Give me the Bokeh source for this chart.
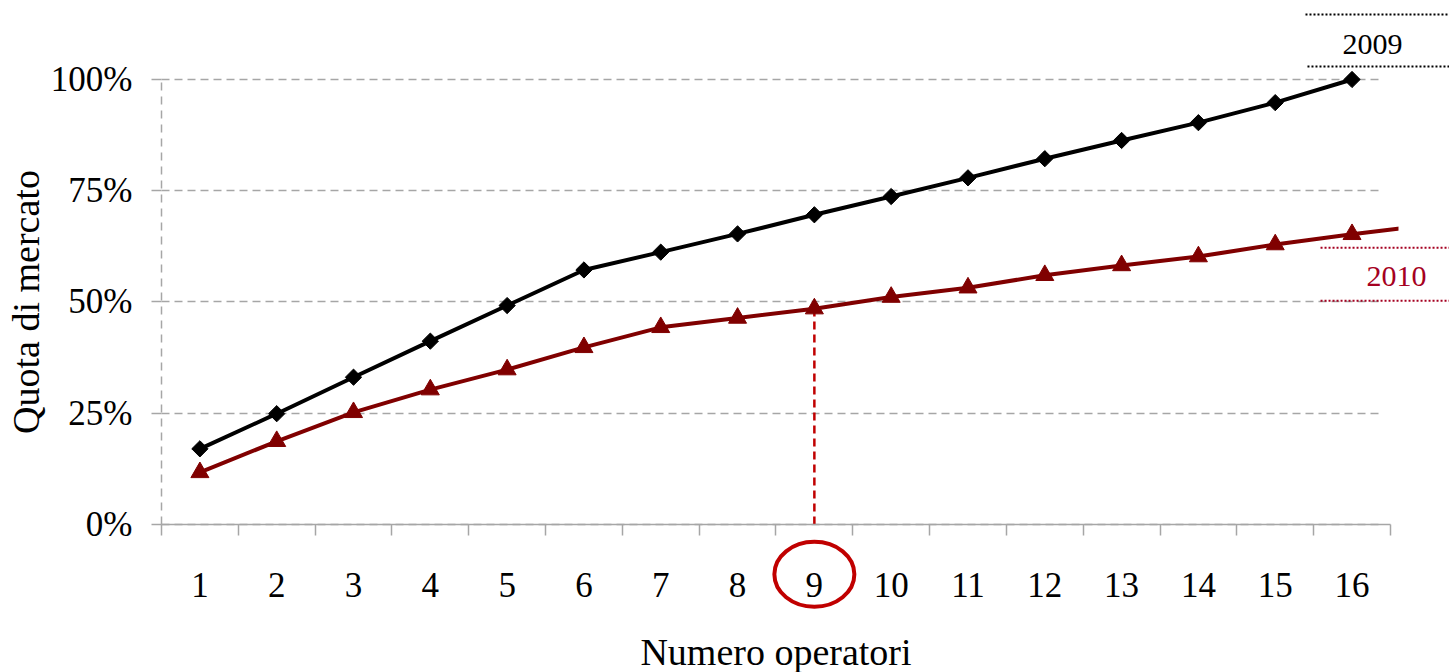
import math
from bokeh.plotting import figure
from bokeh.models import (LinearAxis, FixedTicker, Range1d, Grid, Label, Arrow,
                          ColumnDataSource)
from bokeh.embed import file_html
from bokeh.resources import INLINE

# ---------------- data ----------------
operatori = list(range(1, 17))
tick_labels = [str(i) for i in operatori]
quota_2009 = [17.0, 24.9, 33.1, 41.2, 49.2, 57.2, 61.2, 65.3, 69.6, 73.7,
              77.9, 82.2, 86.3, 90.3, 94.8, 100.0]
quota_2010 = [11.7, 18.7, 25.2, 30.3, 34.8, 39.8, 44.3, 46.4, 48.5, 51.1,
              53.2, 56.0, 58.2, 60.2, 62.9, 65.2]
quota_2010_next = 67.3          # line continues past the last category
y_ticks = [0, 25, 50, 75, 100]
y_tick_labels = ["0%", "25%", "50%", "75%", "100%"]
highlight = 9
series_names = ["2009", "2010"]

FONT = "Liberation Serif"
GRAY = "#a6a6a6"
RED_LINE = "#800000"
HILITE = "#c00000"
LABEL_2010 = "#a50021"

W, H = 1449, 672
p = figure(width=W, height=H, output_backend="svg", toolbar_location=None,
           x_range=Range1d(-1.596, 17.269), y_range=Range1d(-33.26, 117.75),
           x_axis_type=None, y_axis_type=None,
           min_border_left=0, min_border_right=0,
           min_border_top=0, min_border_bottom=0)
p.outline_line_color = None
p.background_fill_color = "white"
p.border_fill_color = "white"

# ---------------- axes ----------------
xaxis = LinearAxis(fixed_location=0, bounds=(0.5, 16.5),
                   ticker=FixedTicker(ticks=operatori,
                                      minor_ticks=[i + 0.5 for i in range(0, 17)]),
                   major_label_overrides={float(i): s for i, s in zip(operatori, tick_labels)},
                   axis_label="Numero operatori")
xaxis.axis_line_color = GRAY
xaxis.axis_line_width = 1.5
xaxis.major_tick_line_color = None
xaxis.major_tick_in = 0
xaxis.major_tick_out = 0
xaxis.minor_tick_line_color = GRAY
xaxis.minor_tick_line_width = 1.5
xaxis.minor_tick_in = 0
xaxis.minor_tick_out = 11
xaxis.major_label_standoff = 38
xaxis.major_label_text_font = FONT
xaxis.major_label_text_font_size = "35px"
xaxis.major_label_text_color = "black"
xaxis.axis_label_text_font = FONT
xaxis.axis_label_text_font_size = "38px"
xaxis.axis_label_text_font_style = "normal"
xaxis.axis_label_text_color = "black"
xaxis.axis_label_standoff = 30
p.add_layout(xaxis, "below")

yaxis = LinearAxis(fixed_location=0.5, bounds=(0, 100),
                   ticker=FixedTicker(ticks=y_ticks, minor_ticks=[]),
                   major_label_overrides={float(t): s for t, s in zip(y_ticks, y_tick_labels)},
                   axis_label="Quota di mercato")
yaxis.axis_line_color = GRAY
yaxis.axis_line_width = 1.5
yaxis.axis_line_dash = "8 6"
yaxis.major_tick_line_color = GRAY
yaxis.major_tick_line_width = 1.5
yaxis.major_tick_in = 0
yaxis.major_tick_out = 10
yaxis.minor_tick_line_color = None
yaxis.major_label_standoff = 19
yaxis.major_label_text_font = FONT
yaxis.major_label_text_font_size = "35px"
yaxis.major_label_text_color = "black"
yaxis.axis_label_text_font = FONT
yaxis.axis_label_text_font_size = "38px"
yaxis.axis_label_text_font_style = "normal"
yaxis.axis_label_text_color = "black"
yaxis.axis_label_standoff = 1
p.add_layout(yaxis, "left")

grid = Grid(dimension=1, ticker=yaxis.ticker, grid_line_color=GRAY,
            grid_line_dash="8 5", grid_line_width=1.5, cross_bounds=(0.5, 16.41))
p.add_layout(grid)

# ---------------- series ----------------
src09 = ColumnDataSource(dict(x=operatori, y=quota_2009))
src10 = ColumnDataSource(dict(x=operatori, y=quota_2010))
src10_line = ColumnDataSource(dict(x=operatori + [operatori[-1] + 1],
                                   y=quota_2010 + [quota_2010_next]))

# highlight: dashed drop line from the 2010 value at 9 operators
p.segment(x0=[highlight], y0=[0], x1=[highlight], y1=[quota_2010[highlight - 1]],
          line_color=HILITE, line_width=2.5, line_dash="8 5")

p.line("x", "y", source=src10_line, line_color=RED_LINE, line_width=4)
# the chart area ends just past the last category: hide the rest of the line
p.quad(left=[16.605], right=[17.4], bottom=[quota_2010[-1] + 0.4],
       top=[quota_2010_next + 3.5], fill_color="white", line_color=None)
p.scatter("x", "y", source=src10, marker="triangle", size=18,
          fill_color=RED_LINE, line_color=RED_LINE)
p.line("x", "y", source=src09, line_color="black", line_width=4)
p.scatter("x", "y", source=src09, marker="square", angle=math.pi / 4, size=11.5,
          fill_color="black", line_color="black")

# circle around the highlighted tick label
p.ellipse(x=[highlight], y=[-11.2], width=80, height=65,
          width_units="screen", height_units="screen",
          fill_color=None, line_color=HILITE, line_width=4)

# ---------------- series labels ----------------
p.add_layout(Label(x=16.266, y=107.9, text=series_names[0], text_align="center",
                   text_baseline="middle", text_font=FONT, text_font_size="30px",
                   text_color="black"))
p.add_layout(Label(x=16.578, y=55.7, text=series_names[1], text_align="center",
                   text_baseline="middle", text_font=FONT, text_font_size="30px",
                   text_color=LABEL_2010))
for (x0, y0, col) in [(15.394, 114.6, "black"), (15.42, 102.9, "black"),
                      (15.59, 62.2, LABEL_2010), (15.59, 50.3, LABEL_2010)]:
    p.add_layout(Arrow(end=None, x_start=x0, y_start=y0, x_end=17.4, y_end=y0,
                       line_color=col, line_width=2, line_dash="2 2"))

open("out.html", "w").write(file_html(p, INLINE))
